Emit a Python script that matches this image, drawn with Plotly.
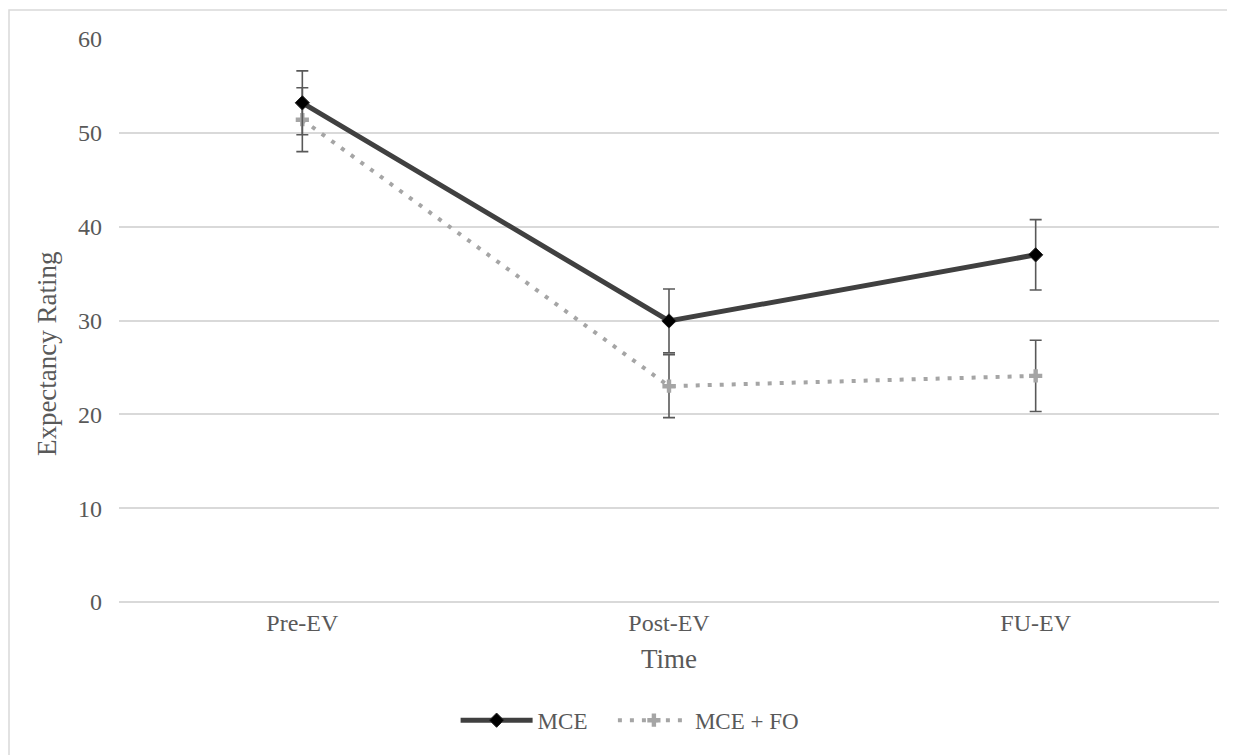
import plotly.graph_objects as go

categories = ["Pre-EV", "Post-EV", "FU-EV"]
mce = [53.2, 29.95, 37.0]
mce_err = [3.4, 3.4, 3.75]
mcefo = [51.4, 23.0, 24.1]
mcefo_err = [3.4, 3.35, 3.8]
y_ticks = [0, 10, 20, 30, 40, 50, 60]

FONT = "Liberation Serif, Times New Roman, serif"
TXT = "#595959"

fig = go.Figure()
fig.add_trace(go.Scatter(
    x=categories, y=mcefo, name="MCE + FO", mode="lines+markers", legend="legend2",
    line=dict(color="#A5A5A5", width=4, dash="4px,8px"),
    marker=dict(symbol="cross", size=11, color="#A5A5A5"),
    error_y=dict(type="data", array=mcefo_err, color="#595959", thickness=1.6, width=6),
))
fig.add_trace(go.Scatter(
    x=categories, y=mce, name="MCE", mode="lines+markers", legend="legend",
    line=dict(color="#404040", width=5),
    marker=dict(symbol="diamond", size=11, color="#000000", line=dict(color="#262626", width=1)),
    error_y=dict(type="data", array=mce_err, color="#595959", thickness=1.6, width=6),
))

legend_style = dict(orientation="h", xanchor="left", y=-0.21, yanchor="middle",
                    font=dict(size=23, color=TXT), itemwidth=72, bgcolor="rgba(0,0,0,0)")

fig.update_layout(
    width=1235, height=755,
    margin=dict(l=111, r=24, t=31, b=161),
    paper_bgcolor="white", plot_bgcolor="white",
    font=dict(family=FONT, size=24, color=TXT),
    showlegend=True,
    legend=dict(x=0.306, **legend_style),
    legend2=dict(x=0.449, **legend_style),
    xaxis=dict(
        type="category", range=[-0.5, 2.5], showgrid=False, showline=False, ticks="",
        title=dict(text="Time", font=dict(size=27, color=TXT), standoff=14),
        tickfont=dict(size=24, color=TXT), ticklabelstandoff=4,
    ),
    yaxis=dict(
        range=[0, 60], tickvals=y_ticks, showgrid=True, gridcolor="#D9D9D9", gridwidth=1.5,
        zeroline=True, zerolinecolor="#D9D9D9", zerolinewidth=1.5, showline=False, ticks="",
        tickfont=dict(size=24, color=TXT), ticklabelstandoff=16,
    ),
    annotations=[dict(text="Expectancy Rating", xref="paper", yref="paper", x=-0.0655, y=0.442,
                      xanchor="center", yanchor="middle", textangle=-90, showarrow=False,
                      font=dict(size=27, color=TXT))],
    shapes=[dict(type="rect", xref="paper", yref="paper", x0=-0.1, y0=-0.5, x1=1.2, y1=1.0515,
                 line=dict(color="#D9D9D9", width=1.5), fillcolor="rgba(0,0,0,0)", layer="below")],
)

fig.write_html("out.html")
